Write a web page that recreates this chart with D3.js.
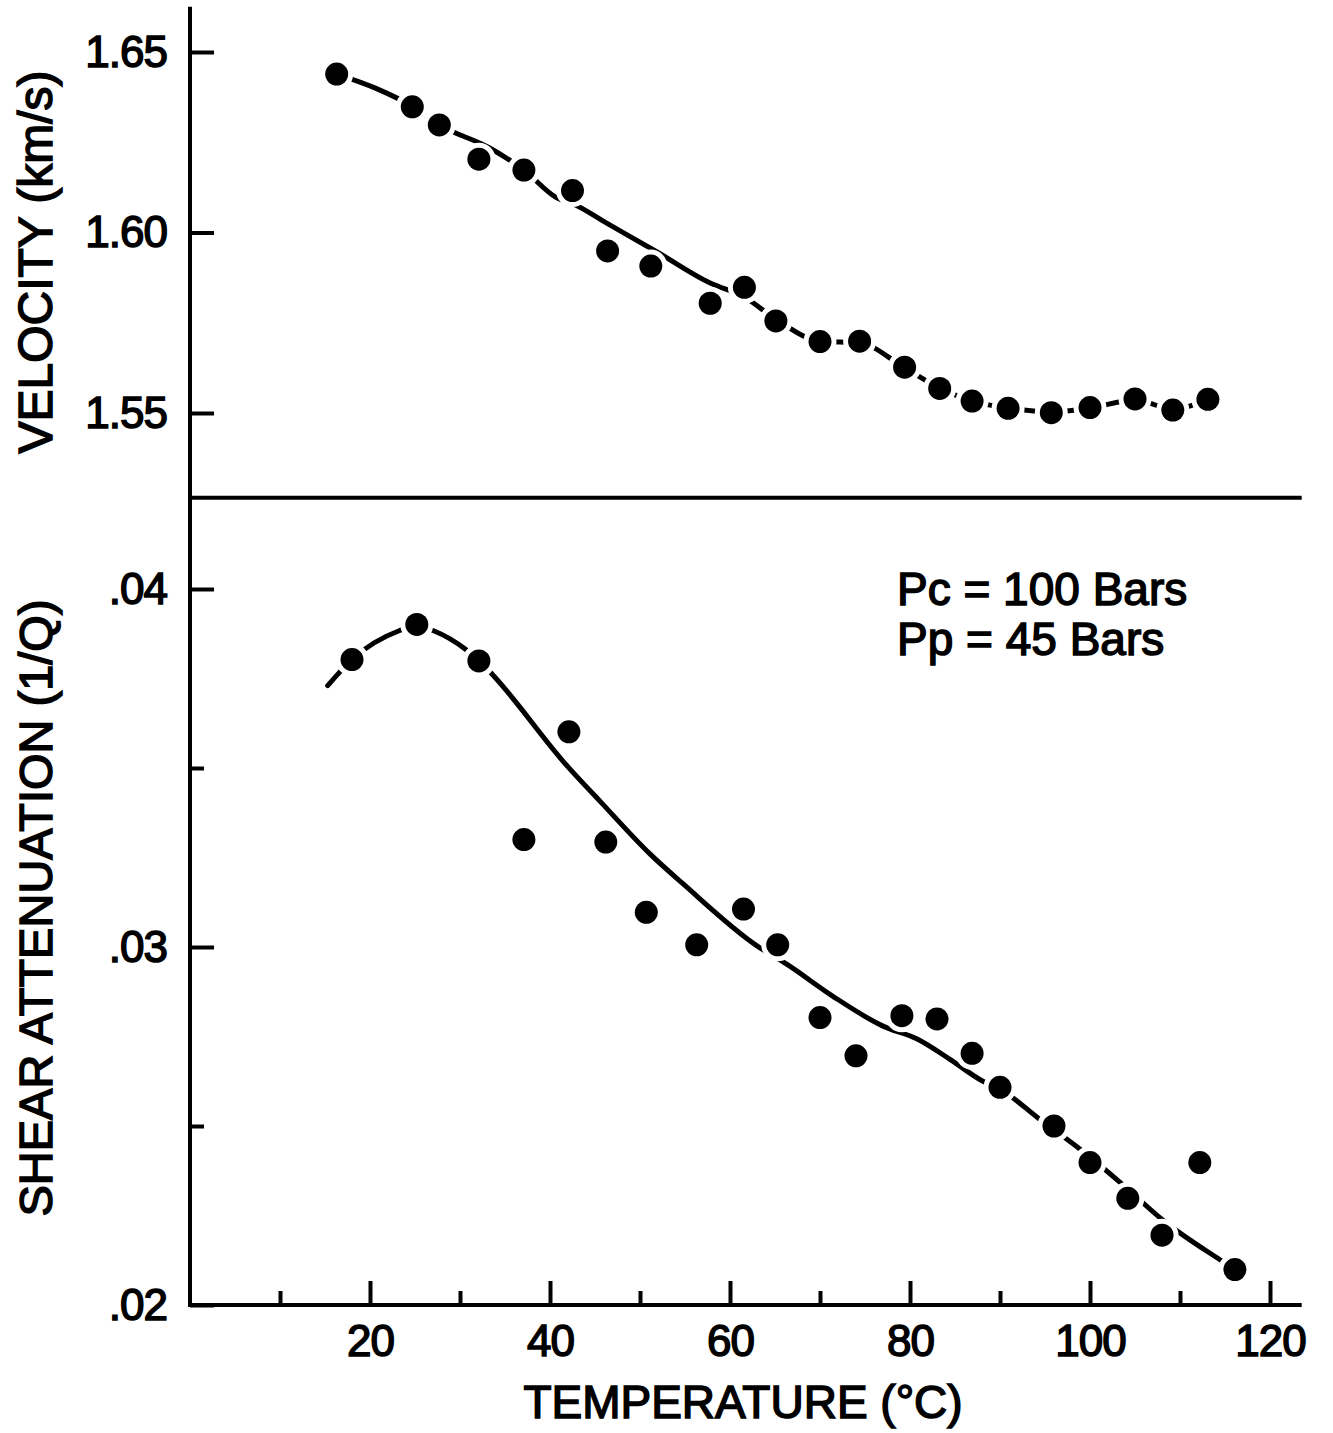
<!DOCTYPE html>
<html>
<head>
<meta charset="utf-8">
<script src="https://cdn.jsdelivr.net/npm/d3@7"></script>
<style>
  body { margin: 0; background: #fff; }
  svg text { font-family: "Liberation Sans", Arial, sans-serif; fill: #000; stroke: #000; stroke-width: 1.5px; }
</style>
</head>
<body>
<div id="chart"></div>
<script>
// ---- data ----
// velocity panel: measured points
const velTemp  = [16.3, 24.7, 27.7, 32.1, 37.1, 42.5, 46.4, 51.2, 57.8, 61.6, 65.1, 70.0, 74.4, 79.4, 83.3, 86.9, 90.9, 95.7, 100.0, 105.0, 109.2, 113.1];
const velValue = [1.6439, 1.6348, 1.6298, 1.6203, 1.6173, 1.6116, 1.5949, 1.5907, 1.5804, 1.5848, 1.5755, 1.5698, 1.5699, 1.5627, 1.5568, 1.5533, 1.5513, 1.5501, 1.5515, 1.5539, 1.5508, 1.5538];
// velocity panel: hand drawn trend line
const velFitTemp  = [16.3, 20.6, 24.8, 27.7, 33.3, 37.1, 40.7, 42.6, 46.3, 51.9, 57.8, 61.6, 65.1, 70.0, 74.4, 79.3, 83.3, 86.9, 90.9, 95.8, 100.0, 105.0, 109.2, 113.1];
const velFitValue = [1.6439, 1.6400, 1.6348, 1.6298, 1.6234, 1.6173, 1.6097, 1.6079, 1.6026, 1.5946, 1.5860, 1.5821, 1.5760, 1.5699, 1.5694, 1.5627, 1.5569, 1.5533, 1.5514, 1.5503, 1.5514, 1.5536, 1.5511, 1.5539];

// attenuation panel: measured points
const attTemp  = [18.0, 25.2, 32.1, 37.1, 42.1, 46.2, 50.7, 56.3, 61.5, 65.3, 70.0, 74.0, 79.1, 83.0, 86.9, 90.0, 96.0, 100.0, 104.2, 108.0, 112.2, 116.1];
const attValue = [0.03803, 0.03901, 0.03799, 0.03300, 0.03601, 0.03293, 0.03097, 0.03006, 0.03106, 0.03006, 0.02803, 0.02696, 0.02808, 0.02799, 0.02703, 0.02608, 0.02500, 0.02398, 0.02298, 0.02195, 0.02398, 0.02099];
// attenuation panel: hand drawn trend line
const attFitTemp  = [15.3, 18.0, 23.3, 25.2, 27.0, 30.8, 32.1, 33.6, 41.9, 45.6, 51.1, 54.8, 63.0, 66.3, 71.4, 77.0, 80.8, 84.4, 88.1, 90.0, 94.4, 98.9, 103.6, 108.0, 114.4, 116.1];
const attFitValue = [0.03730, 0.03803, 0.03884, 0.03898, 0.03884, 0.03828, 0.03800, 0.03761, 0.03506, 0.03406, 0.03260, 0.03176, 0.03003, 0.02952, 0.02863, 0.02779, 0.02743, 0.02687, 0.02625, 0.02603, 0.02519, 0.02435, 0.02337, 0.02239, 0.02127, 0.02099];

// ticks and labels
const tempMajor = [20, 40, 60, 80, 100, 120];
const tempMinor = [10, 30, 50, 70, 90, 110];
const velTicks = [1.55, 1.60, 1.65];
const velTickLabels = ["1.55", "1.60", "1.65"];
const attTicks = [0.02, 0.03, 0.04];
const attTickLabels = [".02", ".03", ".04"];
const attMinor = [0.025, 0.035];
const noteLines = ["Pc = 100 Bars", "Pp = 45 Bars"];

// ---- layout ----
const W = 1333, H = 1433;
const svg = d3.select("#chart").append("svg")
    .attr("width", W)
    .attr("height", H)
    .style("background", "#fff");

const x = d3.scaleLinear().domain([0, 120]).range([190, 1270]);
const yVel = d3.scaleLinear().domain([1.55, 1.65]).range([413, 52]);
const yAtt = d3.scaleLinear().domain([0.02, 0.04]).range([1305, 589]);

const xEnd = 123.3;       // right end of the axis lines
const velTop = 1.662;     // top of the vertical axis
const velBottom = 1.5265; // divider between the panels

// frame lines
const frame = svg.append("g")
    .attr("stroke", "#000")
    .attr("stroke-width", 4)
    .attr("stroke-linecap", "square");

frame.append("line")
    .attr("x1", x(0)).attr("x2", x(0))
    .attr("y1", yVel(velTop)).attr("y2", yAtt(0.02));
frame.append("line")
    .attr("x1", x(0)).attr("x2", x(xEnd))
    .attr("y1", yVel(velBottom)).attr("y2", yVel(velBottom));
frame.append("line")
    .attr("x1", x(0)).attr("x2", x(xEnd))
    .attr("y1", yAtt(0.02)).attr("y2", yAtt(0.02));

function styleAxis(g, size) {
    g.select(".domain").remove();
    g.selectAll(".tick line").attr("stroke", "#000").attr("stroke-width", 4);
    g.selectAll(".tick text")
        .attr("fill", "#000")
        .style("font-size", size + "px")
        .style("letter-spacing", "-1px");
}

// velocity axis (ticks point into the plot)
svg.append("g")
    .attr("transform", `translate(${x(0)},0)`)
    .call(d3.axisLeft(yVel).tickValues(velTicks).tickSize(-24).tickPadding(23)
        .tickFormat((d, i) => velTickLabels[i]))
    .call(g => styleAxis(g, 44));

// attenuation axis
svg.append("g")
    .attr("transform", `translate(${x(0)},0)`)
    .call(d3.axisLeft(yAtt).tickValues(attTicks).tickSize(-24).tickPadding(23)
        .tickFormat((d, i) => attTickLabels[i]))
    .call(g => styleAxis(g, 44));

svg.append("g")
    .attr("transform", `translate(${x(0)},0)`)
    .call(d3.axisLeft(yAtt).tickValues(attMinor).tickSize(-14).tickFormat(""))
    .call(g => styleAxis(g, 44));

// temperature axis
svg.append("g")
    .attr("transform", `translate(0,${yAtt(0.02)})`)
    .call(d3.axisBottom(x).tickValues(tempMajor).tickSize(-24).tickPadding(20))
    .call(g => styleAxis(g, 44));

svg.append("g")
    .attr("transform", `translate(0,${yAtt(0.02)})`)
    .call(d3.axisBottom(x).tickValues(tempMinor).tickSize(-14).tickFormat(""))
    .call(g => styleAxis(g, 44));

// axis titles
svg.append("text")
    .attr("transform", "translate(52,262) rotate(-90)")
    .attr("text-anchor", "middle")
    .style("font-size", "48px")
    .text("VELOCITY (km/s)");

svg.append("text")
    .attr("transform", "translate(52,908) rotate(-90)")
    .attr("text-anchor", "middle")
    .style("font-size", "47px")
    .text("SHEAR ATTENUATION (1/Q)");

svg.append("text")
    .attr("x", 743)
    .attr("y", 1418)
    .attr("text-anchor", "middle")
    .style("font-size", "46px")
    .text("TEMPERATURE (°C)");

// annotation
svg.append("g")
    .selectAll("text")
    .data(noteLines)
    .join("text")
    .attr("x", 897)
    .attr("y", (d, i) => 605 + i * 50)
    .style("font-size", "46px")
    .text(d => d);

// trend lines and points
const panels = [
    {t: velTemp, v: velValue, ft: velFitTemp, fv: velFitValue, y: yVel},
    {t: attTemp, v: attValue, ft: attFitTemp, fv: attFitValue, y: yAtt}
];

panels.forEach(p => {
    const fit = p.ft.map((t, i) => [t, p.fv[i]]);
    const line = d3.line()
        .x(d => x(d[0]))
        .y(d => p.y(d[1]))
        .curve(d3.curveMonotoneX);

    svg.append("path")
        .datum(fit)
        .attr("fill", "none")
        .attr("stroke", "#000")
        .attr("stroke-width", 5)
        .attr("stroke-linecap", "round")
        .attr("d", line);

    const pts = p.t.map((t, i) => [t, p.v[i]]);
    // white ring around each dot breaks the line like the inked original
    svg.append("g")
        .selectAll("circle")
        .data(pts)
        .join("circle")
        .attr("cx", d => x(d[0]))
        .attr("cy", d => p.y(d[1]))
        .attr("r", 11.5)
        .attr("fill", "#000")
        .attr("stroke", "#fff")
        .attr("stroke-width", 10)
        .style("paint-order", "stroke");
});
</script>
</body>
</html>
